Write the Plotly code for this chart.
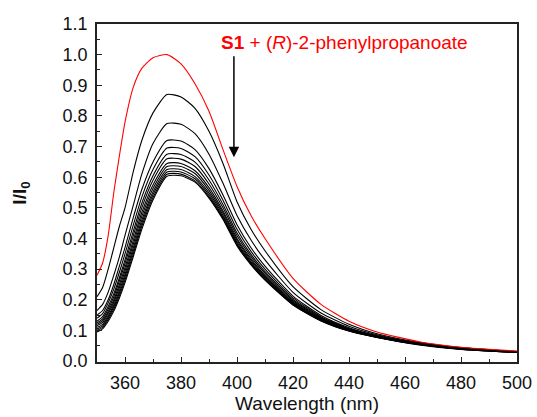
import plotly.graph_objects as go

wavelength = [350, 352, 354, 356, 358, 360, 363, 366, 370, 375, 380, 385, 390, 395,
              400, 405, 410, 420, 430, 440, 450, 465, 480, 500]

red_curve = [0.28, 0.32, 0.41, 0.55, 0.67, 0.78, 0.895, 0.955, 0.99, 1.0, 0.97, 0.905, 0.815, 0.69,
             0.57, 0.475, 0.40, 0.27, 0.185, 0.13, 0.095, 0.063, 0.045, 0.033]

black_1 = [0.21, 0.24, 0.30, 0.37, 0.44, 0.50, 0.62, 0.72, 0.81, 0.87, 0.862, 0.825, 0.75, 0.645,
           0.52, 0.43, 0.36, 0.243, 0.168, 0.12, 0.089, 0.061, 0.044, 0.031]
black_2 = [0.165, 0.185, 0.225, 0.28, 0.34, 0.41, 0.51, 0.61, 0.71, 0.775, 0.773, 0.742, 0.675, 0.58,
           0.475, 0.395, 0.33, 0.2245, 0.157, 0.114, 0.086, 0.059, 0.043, 0.031]
black_3 = [0.15, 0.165, 0.20, 0.25, 0.31, 0.37, 0.47, 0.56, 0.65, 0.72, 0.718, 0.69, 0.628, 0.542,
           0.445, 0.37, 0.31, 0.212, 0.149, 0.109, 0.083, 0.058, 0.042, 0.030]
black_4 = [0.14, 0.155, 0.19, 0.235, 0.29, 0.35, 0.445, 0.535, 0.625, 0.695, 0.694, 0.667, 0.607, 0.525,
           0.43, 0.358, 0.30, 0.206, 0.145, 0.106, 0.082, 0.057, 0.041, 0.030]
black_5 = [0.13, 0.145, 0.178, 0.22, 0.272, 0.33, 0.425, 0.515, 0.605, 0.675, 0.674, 0.649, 0.591, 0.511,
           0.418, 0.348, 0.292, 0.201, 0.142, 0.105, 0.081, 0.057, 0.041, 0.030]
black_6 = [0.125, 0.138, 0.17, 0.21, 0.262, 0.318, 0.41, 0.50, 0.59, 0.66, 0.659, 0.635, 0.578, 0.50,
           0.409, 0.341, 0.286, 0.197, 0.140, 0.103, 0.080, 0.056, 0.040, 0.029]
black_7 = [0.12, 0.132, 0.162, 0.20, 0.25, 0.305, 0.395, 0.485, 0.575, 0.645, 0.645, 0.621, 0.566, 0.49,
           0.40, 0.334, 0.28, 0.193, 0.137, 0.102, 0.079, 0.056, 0.040, 0.029]
black_8 = [0.115, 0.126, 0.155, 0.192, 0.24, 0.294, 0.383, 0.472, 0.563, 0.635, 0.635, 0.612, 0.557, 0.483,
           0.394, 0.329, 0.276, 0.191, 0.136, 0.101, 0.079, 0.055, 0.040, 0.029]
black_9 = [0.11, 0.12, 0.148, 0.184, 0.23, 0.283, 0.371, 0.46, 0.552, 0.625, 0.625, 0.602, 0.549, 0.476,
           0.388, 0.324, 0.272, 0.188, 0.134, 0.100, 0.078, 0.055, 0.039, 0.029]
black_10 = [0.105, 0.115, 0.142, 0.177, 0.222, 0.274, 0.361, 0.45, 0.543, 0.617, 0.617, 0.595, 0.542, 0.47,
            0.383, 0.32, 0.269, 0.186, 0.133, 0.099, 0.078, 0.054, 0.039, 0.028]
black_11 = [0.10, 0.11, 0.136, 0.17, 0.214, 0.265, 0.351, 0.44, 0.534, 0.61, 0.61, 0.588, 0.536, 0.466,
            0.379, 0.317, 0.266, 0.184, 0.132, 0.098, 0.077, 0.054, 0.039, 0.028]
black_12 = [0.095, 0.105, 0.13, 0.163, 0.206, 0.256, 0.342, 0.43, 0.526, 0.603, 0.605, 0.584, 0.532, 0.462,
            0.376, 0.314, 0.264, 0.183, 0.131, 0.098, 0.077, 0.053, 0.038, 0.028]

black_curves = [black_1, black_2, black_3, black_4, black_5, black_6,
                black_7, black_8, black_9, black_10, black_11, black_12]

x_ticks = [360, 380, 400, 420, 440, 460, 480, 500]
y_ticks = [0.0, 0.1, 0.2, 0.3, 0.4, 0.5, 0.6, 0.7, 0.8, 0.9, 1.0, 1.1]

label_text = "<b>S1</b> + (<i>R</i>)-2-phenylpropanoate"
arrow_x = 398.9
arrow_top = 1.0
arrow_tip = 0.665

FONT = "Liberation Sans, Arial, sans-serif"
W, H = 537, 417
ML, MR, MT, MB = 97, 20, 24, 55
PW, PH = W - ML - MR, H - MT - MB

fig = go.Figure()
for ys in black_curves:
    fig.add_trace(go.Scatter(x=wavelength, y=ys, mode="lines",
                             line=dict(color="black", width=1.1, shape="spline", smoothing=0.6),
                             showlegend=False, hoverinfo="skip"))
fig.add_trace(go.Scatter(x=wavelength, y=red_curve, mode="lines",
                         line=dict(color="#ff0000", width=1.1, shape="spline", smoothing=0.6),
                         showlegend=False, hoverinfo="skip"))

fig.add_annotation(x=arrow_x, y=arrow_tip, ax=arrow_x, ay=arrow_top, xref="x", yref="y",
                   axref="x", ayref="y", text="", showarrow=True, arrowhead=2,
                   arrowsize=1.4, arrowwidth=1.5, arrowcolor="black")
fig.add_annotation(x=(344 - ML) / PW, y=(H - MB - 42) / PH, xref="paper", yref="paper",
                   text=label_text, showarrow=False, xanchor="center", yanchor="middle",
                   font=dict(color="#ff0000", size=19, family=FONT))

axis_common = dict(showline=True, linecolor="#222222", linewidth=1.5, mirror=True,
                   ticks="inside", ticklen=5, tickwidth=1.2, tickcolor="#222222",
                   showgrid=False, zeroline=False, ticklabelstandoff=4, automargin=False,
                   tickfont=dict(size=18, color="#111111", family=FONT))

fig.update_xaxes(range=[350, 500], tickvals=x_ticks,
                 minor=dict(dtick=10, ticks="inside", ticklen=3, tickcolor="#222222", tickwidth=1),
                 title=dict(text="Wavelength (nm)", standoff=4,
                            font=dict(size=19, color="#111111", family=FONT)),
                 **axis_common)
fig.update_yaxes(range=[-0.003, 1.1], tickvals=y_ticks, tickformat=".1f",
                 minor=dict(dtick=0.05, ticks="inside", ticklen=3, tickcolor="#222222", tickwidth=1),
                 title=dict(text="<b>I/I<sub>0</sub></b>", standoff=31,
                            font=dict(size=19, color="#111111", family=FONT)),
                 **axis_common)

fig.update_layout(width=W, height=H, margin=dict(l=ML, r=MR, t=MT, b=MB),
                  plot_bgcolor="white", paper_bgcolor="white")

fig.write_html("out.html", config={"displayModeBar": False},
               post_script="document.body.style.margin='0';document.body.style.overflow='hidden';")
